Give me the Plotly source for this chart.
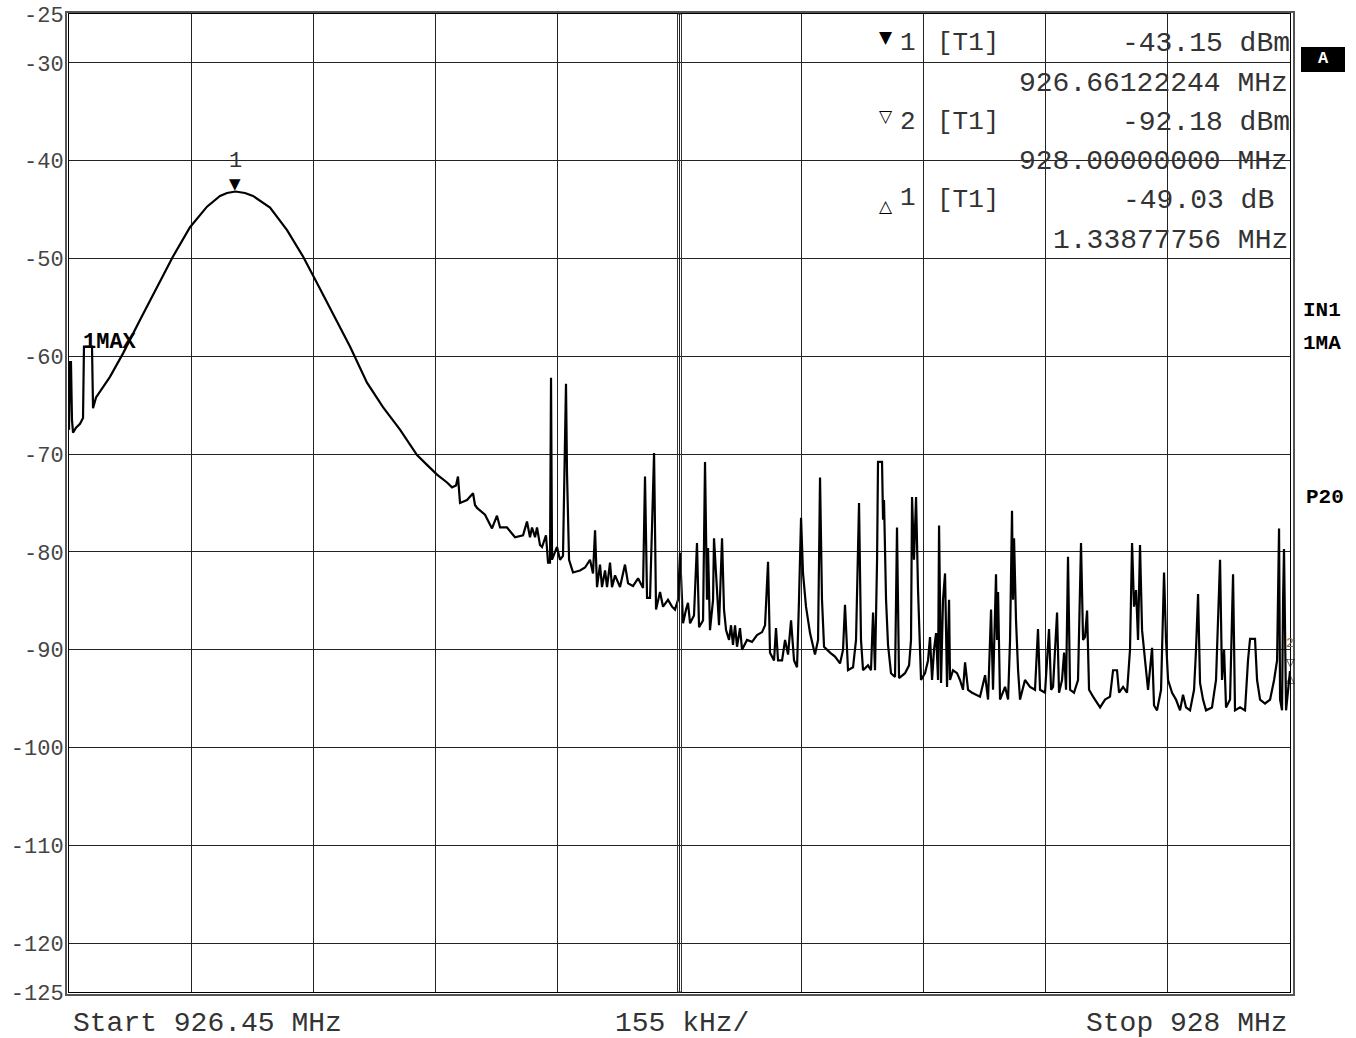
import plotly.graph_objects as go

FREQ_MHZ = [
    926.4500, 926.4513, 926.4525, 926.4538, 926.4551, 926.4589, 926.4640, 926.4678, 926.4690, 926.4792,
    926.4805, 926.4843, 926.5020, 926.5186, 926.5401, 926.5617, 926.5820, 926.6036, 926.6252, 926.6417,
    926.6506, 926.6612, 926.6734, 926.6836, 926.7052, 926.7268, 926.7471, 926.7648, 926.7852, 926.8067,
    926.8283, 926.8486, 926.8702, 926.8918, 926.9045, 926.9172, 926.9299, 926.9362, 926.9413, 926.9438,
    926.9464, 926.9553, 926.9629, 926.9654, 926.9680, 926.9781, 926.9870, 926.9933, 926.9972, 927.0060,
    927.0162, 927.0264, 927.0314, 927.0352, 927.0378, 927.0416, 927.0441, 927.0479, 927.0505, 927.0555,
    927.0581, 927.0606, 927.0619, 927.0632, 927.0670, 927.0695, 927.0733, 927.0771, 927.0809, 927.0822,
    927.0848, 927.0898, 927.0987, 927.1051, 927.1114, 927.1152, 927.1178, 927.1203, 927.1241, 927.1266,
    927.1305, 927.1330, 927.1368, 927.1393, 927.1432, 927.1495, 927.1558, 927.1597, 927.1660, 927.1724,
    927.1787, 927.1812, 927.1838, 927.1876, 927.1927, 927.1952, 927.2003, 927.2041, 927.2104, 927.2155,
    927.2193, 927.2231, 927.2257, 927.2295, 927.2333, 927.2358, 927.2384, 927.2434, 927.2472, 927.2498,
    927.2549, 927.2574, 927.2599, 927.2612, 927.2637, 927.2676, 927.2688, 927.2726, 927.2752, 927.2790,
    927.2815, 927.2841, 927.2879, 927.2904, 927.2929, 927.2955, 927.2980, 927.3018, 927.3044, 927.3107,
    927.3171, 927.3234, 927.3298, 927.3336, 927.3374, 927.3399, 927.3450, 927.3475, 927.3501, 927.3552,
    927.3590, 927.3628, 927.3666, 927.3704, 927.3742, 927.3767, 927.3793, 927.3818, 927.3856, 927.3907,
    927.3970, 927.4009, 927.4034, 927.4059, 927.4085, 927.4161, 927.4224, 927.4288, 927.4326, 927.4351,
    927.4389, 927.4453, 927.4491, 927.4529, 927.4554, 927.4580, 927.4643, 927.4681, 927.4707, 927.4732,
    927.4758, 927.4770, 927.4821, 927.4834, 927.4846, 927.4872, 927.4897, 927.4935, 927.4986, 927.5011,
    927.5037, 927.5113, 927.5164, 927.5189, 927.5202, 927.5227, 927.5253, 927.5278, 927.5316, 927.5367,
    927.5405, 927.5430, 927.5456, 927.5481, 927.5507, 927.5532, 927.5545, 927.5570, 927.5595, 927.5621,
    927.5646, 927.5672, 927.5684, 927.5722, 927.5773, 927.5811, 927.5849, 927.5875, 927.5913, 927.5964,
    927.6027, 927.6065, 927.6129, 927.6167, 927.6205, 927.6230, 927.6268, 927.6281, 927.6294, 927.6319,
    927.6383, 927.6421, 927.6446, 927.6471, 927.6484, 927.6497, 927.6522, 927.6548, 927.6573, 927.6636,
    927.6700, 927.6763, 927.6801, 927.6827, 927.6890, 927.6941, 927.6967, 927.6992, 927.7043, 927.7068,
    927.7106, 927.7132, 927.7157, 927.7182, 927.7208, 927.7258, 927.7309, 927.7347, 927.7373, 927.7398,
    927.7424, 927.7449, 927.7500, 927.7589, 927.7652, 927.7715, 927.7754, 927.7804, 927.7830, 927.7881,
    927.7931, 927.7969, 927.7995, 927.8020, 927.8046, 927.8071, 927.8096, 927.8122, 927.8160, 927.8198,
    927.8249, 927.8274, 927.8312, 927.8363, 927.8401, 927.8426, 927.8452, 927.8503, 927.8553, 927.8604,
    927.8642, 927.8680, 927.8731, 927.8782, 927.8807, 927.8833, 927.8858, 927.8896, 927.8934, 927.9010,
    927.9061, 927.9087, 927.9112, 927.9137, 927.9163, 927.9188, 927.9239, 927.9277, 927.9302, 927.9366,
    927.9429, 927.9467, 927.9493, 927.9556, 927.9582, 927.9620, 927.9683, 927.9747, 927.9798, 927.9836,
    927.9861, 927.9874, 927.9899, 927.9912, 927.9924, 927.9950, 927.9975, 928.0000,
]

LEVEL_DBM = [
    -67.5, -60.6, -60.6, -66.5, -67.8, -67.3, -66.9, -66.3, -59.0, -59.0,
    -65.3, -64.2, -62.1, -59.7, -56.3, -52.9, -49.8, -46.8, -44.7, -43.6,
    -43.3, -43.15, -43.3, -43.6, -44.8, -47.1, -49.8, -52.5, -55.6, -59.0,
    -62.7, -65.2, -67.5, -70.1, -71.1, -72.1, -72.9, -73.4, -73.2, -72.3,
    -75.0, -74.7, -74.0, -75.2, -75.5, -76.2, -77.6, -76.3, -77.5, -77.5,
    -78.5, -78.3, -76.9, -78.5, -77.5, -78.5, -77.5, -79.3, -79.5, -78.3,
    -81.1, -81.1, -62.2, -80.8, -80.0, -79.5, -80.8, -80.4, -62.8, -71.9,
    -80.8, -82.1, -81.9, -81.6, -80.8, -82.2, -77.8, -83.6, -81.3, -83.6,
    -81.9, -83.6, -81.1, -83.6, -82.4, -83.6, -81.3, -83.2, -83.5, -82.7,
    -83.7, -72.3, -84.7, -84.7, -69.9, -85.9, -84.1, -85.6, -84.9, -85.6,
    -85.9, -84.9, -80.1, -87.3, -85.9, -85.2, -87.3, -86.5, -79.1, -87.7,
    -87.0, -70.8, -84.9, -79.6, -88.0, -84.9, -78.6, -83.9, -87.5, -78.6,
    -85.9, -88.0, -89.0, -87.5, -89.5, -87.5, -89.7, -87.8, -90.0, -89.0,
    -89.2, -88.5, -88.2, -87.5, -81.0, -90.3, -91.1, -87.8, -91.1, -91.1,
    -89.0, -90.5, -87.0, -91.1, -91.8, -84.9, -76.5, -82.2, -85.6, -88.3,
    -90.5, -89.0, -72.4, -84.9, -89.7, -90.3, -90.7, -91.4, -90.0, -85.4,
    -92.1, -91.8, -89.0, -75.0, -89.0, -92.1, -91.6, -92.1, -86.2, -92.1,
    -80.8, -70.8, -70.8, -76.7, -74.7, -84.9, -89.5, -92.4, -92.8, -77.5,
    -92.9, -92.4, -91.6, -89.0, -74.4, -80.8, -74.4, -83.9, -93.1, -92.4,
    -91.1, -88.7, -93.1, -90.0, -88.3, -93.1, -77.3, -93.4, -84.9, -82.2,
    -93.8, -84.9, -93.1, -92.1, -92.4, -93.1, -94.1, -91.3, -94.1, -94.4,
    -94.6, -94.8, -92.6, -95.1, -85.9, -94.1, -82.3, -89.0, -84.1, -95.1,
    -93.8, -95.1, -89.0, -75.8, -84.9, -78.6, -87.0, -92.1, -95.1, -93.1,
    -93.8, -94.1, -87.9, -94.1, -94.4, -87.9, -94.1, -93.8, -86.2, -94.4,
    -93.1, -90.3, -94.1, -80.5, -94.1, -94.4, -93.1, -79.1, -89.0, -88.7,
    -86.0, -94.1, -94.8, -95.9, -95.1, -94.8, -92.1, -92.1, -94.4, -93.8,
    -94.4, -90.0, -79.1, -85.6, -83.9, -89.0, -79.3, -88.0, -91.1, -94.1,
    -89.8, -95.7, -96.2, -94.1, -82.1, -89.0, -93.1, -94.4, -95.1, -96.2,
    -94.6, -95.9, -96.2, -94.1, -90.0, -84.3, -93.4, -95.1, -96.2, -95.9,
    -93.1, -87.0, -80.8, -93.1, -90.0, -95.9, -95.1, -82.3, -96.2, -95.9,
    -96.2, -91.1, -88.9, -88.9, -93.1, -95.1, -95.5, -95.1, -93.1, -91.1,
    -77.6, -95.1, -96.2, -84.9, -79.7, -96.2, -94.1, -92.18,
]

Y_TICKS = [-25, -30, -40, -50, -60, -70, -80, -90, -100, -110, -120, -125]
START_MHZ = 926.45
STOP_MHZ = 928.0
SPAN_DIV_MHZ = 0.155
MARKER1 = (926.66122244, -43.15)
MARKER2 = (928.0, -92.18)

MARKER_TABLE = [
    ("▼", "1", "[T1]", "-43.15 dBm", "926.66122244 MHz"),
    ("▽", "2", "[T1]", "-92.18 dBm", "928.00000000 MHz"),
    ("△", "1", "[T1]", "-49.03 dB", "1.33877756 MHz"),
]
BOTTOM_TEXT = ["Start 926.45 MHz", "155 kHz/", "Stop 928 MHz"]
SIDE_LABELS = ["IN1", "1MA", "P20"]

MONO = "Courier New, Liberation Mono, monospace"
TXT = "#333333"

fig = go.Figure()
fig.add_trace(go.Scatter(
    x=FREQ_MHZ, y=LEVEL_DBM, mode="lines",
    line=dict(color="black", width=2.2), hoverinfo="skip", showlegend=False,
))

W, H = 1356, 1038
L, R, T, B = 69, 66, 14, 46
PW, PH = W - L - R, H - T - B


def px(x):
    return (x - L) / PW


def py(y):
    return (H - B - y) / PH


ann = []
row_y = [43, 83, 122, 161, 200, 240]
sym_y = [37, 116, 206]
num_y = [43, 122, 198]
for i, (sym, num, tr, val, freq) in enumerate(MARKER_TABLE):
    ann.append(dict(x=px(886), y=py(sym_y[i]), text=sym, font=dict(family="DejaVu Sans", size=17, color="black")))
    ann.append(dict(x=px(898), y=py(num_y[i]), text=num, xanchor="left", font=dict(family=MONO, size=26, color=TXT)))
    ann.append(dict(x=px(935), y=py(row_y[2 * i]), text=tr, xanchor="left", font=dict(family=MONO, size=26, color=TXT)))
    rx = 1292 if val.endswith("m") else 1276
    ann.append(dict(x=px(rx), y=py(row_y[2 * i]), text=val, xanchor="right", font=dict(family=MONO, size=28, color=TXT)))
    ann.append(dict(x=px(1290), y=py(row_y[2 * i + 1]), text=freq, xanchor="right", font=dict(family=MONO, size=28, color=TXT)))

ann.append(dict(x=px(71), y=py(1023), text=BOTTOM_TEXT[0], xanchor="left", font=dict(family=MONO, size=28, color=TXT)))
ann.append(dict(x=px(682), y=py(1023), text=BOTTOM_TEXT[1], xanchor="center", font=dict(family=MONO, size=28, color=TXT)))
ann.append(dict(x=px(1290), y=py(1023), text=BOTTOM_TEXT[2], xanchor="right", font=dict(family=MONO, size=28, color=TXT)))

for lab, yy, xx in zip(SIDE_LABELS, [310, 343, 497], [1301, 1301, 1304]):
    ann.append(dict(x=px(xx), y=py(yy), text="<b>" + lab + "</b>", xanchor="left",
                    font=dict(family=MONO, size=21, color="black")))
ann.append(dict(x=px(81), y=py(342), text="<b>1MAX</b>", xanchor="left",
                font=dict(family=MONO, size=22, color="black")))
ann.append(dict(x=px(1323), y=py(59), text="<b>A</b>", font=dict(family=MONO, size=17, color="white")))

# marker 1 on trace
ann.append(dict(x=MARKER1[0], xref="x", y=py(161), text="1", font=dict(family=MONO, size=22, color=TXT)))
ann.append(dict(x=MARKER1[0], xref="x", y=py(184), text="▼", font=dict(family="DejaVu Sans", size=15, color="black")))
# marker 2 at stop frequency
ann.append(dict(x=MARKER2[0], xref="x", y=py(643), text="2", font=dict(family=MONO, size=13, color="#8a6a30")))
ann.append(dict(x=MARKER2[0], xref="x", y=py(662), text="▽", font=dict(family="DejaVu Sans", size=11, color="black")))
ann.append(dict(x=MARKER2[0], xref="x", y=py(679), text="△", font=dict(family="DejaVu Sans", size=11, color="black")))

for a in ann:
    a.setdefault("xref", "paper")
    a.setdefault("yref", "paper")
    a.setdefault("xanchor", "center")
    a.setdefault("yanchor", "middle")
    a["showarrow"] = False

shapes = [
    # outer frame (double border look)
    dict(type="rect", xref="paper", yref="paper", x0=px(66), x1=px(1294), y0=py(995), y1=py(12),
         line=dict(color="#555555", width=2)),
    # doubled centre graticule line
    dict(type="rect", xref="x", yref="paper", xsizemode="pixel", xanchor=START_MHZ + 5 * SPAN_DIV_MHZ,
         x0=-2, x1=2, y0=0, y1=1, line=dict(color="#333333", width=1)),
    # status box "A"
    dict(type="rect", xref="paper", yref="paper", x0=px(1301), x1=px(1345), y0=py(72), y1=py(47),
         fillcolor="black", line=dict(width=0)),
]

fig.update_layout(
    width=W, height=H, margin=dict(l=L, r=R, t=T, b=B, autoexpand=False),
    paper_bgcolor="white", plot_bgcolor="white",
    annotations=ann, shapes=shapes, showlegend=False,
    xaxis=dict(range=[START_MHZ, STOP_MHZ], tick0=START_MHZ, dtick=SPAN_DIV_MHZ, tickmode="linear",
               showticklabels=False, ticks="", showgrid=True, gridcolor="#222222", gridwidth=1,
               zeroline=False, showline=True, linecolor="black", linewidth=1, mirror=True,
               automargin=False),
    yaxis=dict(range=[-125, -25], tickmode="array", tickvals=Y_TICKS,
               ticktext=[str(v) for v in Y_TICKS], ticks="", showgrid=True, gridcolor="#222222",
               gridwidth=1, zeroline=False, showline=True, linecolor="black", linewidth=1, mirror=True,
               automargin=False, tickfont=dict(family=MONO, size=22, color="#444444")),
)

fig.write_html("out.html")
